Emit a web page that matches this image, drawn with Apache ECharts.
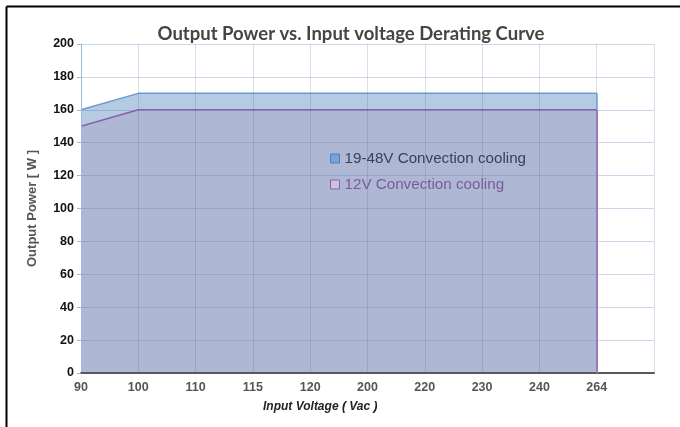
<!DOCTYPE html>
<html><head><meta charset="utf-8">
<script src="https://cdn.jsdelivr.net/npm/echarts@6/dist/echarts.min.js"></script>
<style>html,body{margin:0;padding:0;background:#fff}#c{width:680px;height:427px}</style>
</head><body><div id="c"></div>
<script>
var categories = ['90','100','110','115','120','200','220','230','240','264',''];
var power19to48 = [160,170,170,170,170,170,170,170,170,170,null];
var power12 = [150,160,160,160,160,160,160,160,160,160,null];
var yTicks = [0,20,40,60,80,100,120,140,160,180,200];
var seriesNames = ['19-48V Convection cooling','12V Convection cooling'];
var lastCat = categories[9];

var chart = echarts.init(document.getElementById('c'));
chart.setOption({
  animation:false,
  backgroundColor:'#fff',
  title:{text:'Output Power vs. Input voltage Derating Curve',left:346,top:20,textAlign:'center',
    textStyle:{fontFamily:'Lato',fontWeight:'bold',fontSize:18.5,color:'#454545'}},
  grid:{left:81,right:26,top:44,bottom:54},
  legend:{orient:'vertical',left:325,top:146,itemWidth:9,itemHeight:9,itemGap:11,
    textStyle:{fontFamily:'Liberation Sans',fontSize:15.2},
    data:[
      {name:seriesNames[0],icon:'rect',itemStyle:{color:'#79a3d6',borderColor:'#4f7fbd',borderWidth:1},textStyle:{color:'#34445f'}},
      {name:seriesNames[1],icon:'rect',itemStyle:{color:'#c9c3dc',borderColor:'#8a64a8',borderWidth:1},textStyle:{color:'#7a5a9a'}}
    ]},
  xAxis:{type:'category',data:categories,boundaryGap:false,z:3,
    axisLine:{lineStyle:{color:'#595959',width:2}},
    axisTick:{show:false},
    axisLabel:{fontFamily:'Liberation Sans',fontWeight:'bold',fontSize:12.5,color:'#555',margin:8},
    splitLine:{show:true,lineStyle:{color:'rgba(80,90,120,0.2)',width:1}}},
  yAxis:{type:'value',min:yTicks[0],max:yTicks[yTicks.length-1],interval:yTicks[1]-yTicks[0],z:3,
    name:'Output Power [ W ]',nameLocation:'middle',nameGap:42,nameRotate:90,
    nameTextStyle:{fontFamily:'Liberation Sans',fontWeight:'bold',fontSize:13,color:'#555'},
    axisLine:{show:true,lineStyle:{color:'#9dbbe0'}},
    axisTick:{show:true,length:4,lineStyle:{color:'#9dbbe0'}},
    axisLabel:{fontFamily:'Liberation Sans',fontWeight:'bold',fontSize:12.5,color:'#111',margin:7},
    splitLine:{lineStyle:{color:'rgba(79,129,189,0.3)',width:1}}},
  graphic:[
    {type:'text',left:263,top:401,style:{text:'Input Voltage ( Vac )',font:'italic bold 12px "Liberation Sans"',fill:'#222'}},
    {type:'line',shape:{x1:6.5,y1:6.5,x2:680,y2:6.5},style:{stroke:'#000',lineWidth:2}},
    {type:'line',shape:{x1:6.5,y1:6.5,x2:6.5,y2:427},style:{stroke:'#000',lineWidth:2}}
  ],
  series:[
    {name:seriesNames[0],type:'line',data:power19to48,symbol:'none',z:2,
      lineStyle:{color:'#6b9bd2',width:1.5},itemStyle:{color:'#79a3d6'},
      areaStyle:{color:'#b4cbe2',opacity:1},
      markLine:{silent:true,symbol:'none',label:{show:false},lineStyle:{color:'#6b9bd2',width:1.5,type:'solid'},
        data:[[{coord:[lastCat,power12[9]]},{coord:[lastCat,power19to48[9]]}]]}},
    {name:seriesNames[1],type:'line',data:power12,symbol:'none',z:2,
      lineStyle:{color:'#8a5fa8',width:1.5},itemStyle:{color:'#c9c3dc'},
      areaStyle:{color:'#aeb8d4',opacity:1},
      markLine:{silent:true,symbol:'none',label:{show:false},lineStyle:{color:'#9a78c0',width:2,type:'solid'},
        data:[[{coord:[lastCat,0]},{coord:[lastCat,power12[9]]}]]}}
  ]
});
</script></body></html>
